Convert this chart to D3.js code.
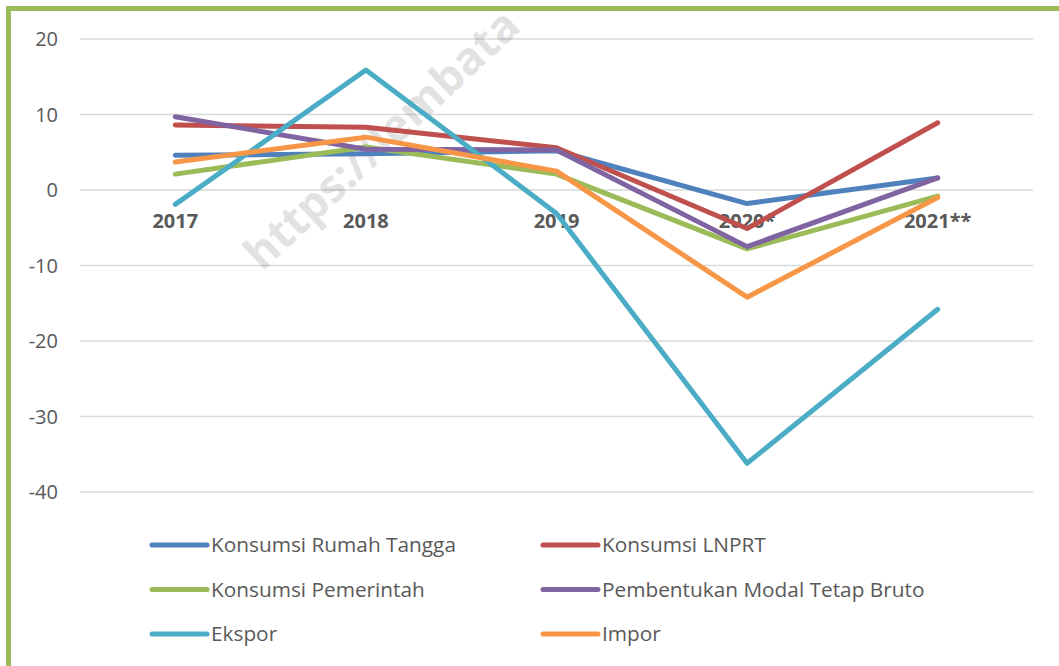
<!DOCTYPE html>
<html>
<head>
<meta charset="utf-8">
<script src="https://cdn.jsdelivr.net/npm/d3@7"></script>
<style>
  body { margin: 0; background: #fff; }
  svg { display: block; font-family: "Open Sans", sans-serif; }
</style>
</head>
<body>
<div id="chart"></div>
<script>
// data
var years = ["2017", "2018", "2019", "2020*", "2021**"];
var seriesNames = ["Konsumsi Rumah Tangga", "Konsumsi LNPRT", "Konsumsi Pemerintah",
                   "Pembentukan Modal Tetap Bruto", "Ekspor", "Impor"];
var rumahTangga = [4.6, 4.8, 5.2, -1.8, 1.6];
var lnprt       = [8.6, 8.3, 5.6, -5.1, 8.9];
var pemerintah  = [2.1, 5.7, 2.1, -7.8, -0.8];
var pmtb        = [9.7, 5.4, 5.3, -7.5, 1.6];
var ekspor      = [-1.9, 15.9, -3.1, -36.2, -15.8];
var impor       = [3.7, 7.0, 2.5, -14.2, -1.0];
var yTicks = [20, 10, 0, -10, -20, -30, -40];

var colors = ["#4f81bd", "#c0504d", "#9bbb59", "#8064a2", "#4bacc6", "#f79646"];
var allValues = [rumahTangga, lnprt, pemerintah, pmtb, ekspor, impor];

var w = 1059, h = 666;

var svg = d3.select("#chart").append("svg")
    .attr("width", w)
    .attr("height", h);

// chart border (green frame, runs off right / bottom)
svg.append("rect")
    .attr("x", 8.5).attr("y", 8.5)
    .attr("width", w + 20).attr("height", h + 20)
    .attr("fill", "none")
    .attr("stroke", "#9bbb59")
    .attr("stroke-width", 5);

// scales
var x = d3.scaleBand().domain(years).range([80, 1033]);
var y = d3.scaleLinear().domain([-40, 20]).range([492, 39]);

// gridlines
svg.append("g")
    .selectAll("line")
    .data(yTicks)
    .enter()
    .append("line")
    .attr("x1", 80).attr("x2", 1033)
    .attr("y1", function(d){ return y(d); })
    .attr("y2", function(d){ return y(d); })
    .attr("stroke", "#d9d9d9")
    .attr("stroke-width", 1.5);

// y tick labels
svg.append("g")
    .selectAll("text")
    .data(yTicks)
    .enter()
    .append("text")
    .attr("x", 58)
    .attr("y", function(d){ return y(d); })
    .attr("dy", "0.35em")
    .attr("text-anchor", "end")
    .attr("fill", "#595959")
    .style("font-size", "20px")
    .text(function(d){ return d; });

// watermark
svg.append("text")
    .attr("transform", "translate(262,272) rotate(-43)")
    .attr("fill", "#000")
    .attr("opacity", 0.11)
    .style("font-size", "45px")
    .style("font-weight", "bold")
    .text("https://lembata");

// category labels (sit at zero line)
svg.append("g")
    .selectAll("text")
    .data(years)
    .enter()
    .append("text")
    .attr("x", function(d){ return x(d) + x.bandwidth() / 2; })
    .attr("y", 228)
    .attr("text-anchor", "middle")
    .attr("fill", "#595959")
    .style("font-size", "20px")
    .style("font-weight", "bold")
    .text(function(d){ return d; });

// lines
var line = d3.line()
    .x(function(d, i){ return x(years[i]) + x.bandwidth() / 2; })
    .y(function(d){ return y(d); });

svg.append("g")
    .selectAll("path")
    .data(allValues)
    .enter()
    .append("path")
    .attr("d", line)
    .attr("fill", "none")
    .attr("stroke", function(d, i){ return colors[i]; })
    .attr("stroke-width", 5)
    .attr("stroke-linecap", "round")
    .attr("stroke-linejoin", "round");

// legend
var legend = svg.append("g")
    .selectAll("g")
    .data(seriesNames)
    .enter()
    .append("g")
    .attr("transform", function(d, i){
        return "translate(" + (i % 2 ? 543 : 152) + "," + (545 + Math.floor(i / 2) * 44.5) + ")";
    });

legend.append("line")
    .attr("x1", 0).attr("x2", 55)
    .attr("stroke", function(d, i){ return colors[i]; })
    .attr("stroke-width", 5)
    .attr("stroke-linecap", "round");

legend.append("text")
    .attr("x", 59)
    .attr("dy", "0.35em")
    .attr("fill", "#595959")
    .style("font-size", "20.8px")
    .text(function(d){ return d; });
</script>
</body>
</html>
